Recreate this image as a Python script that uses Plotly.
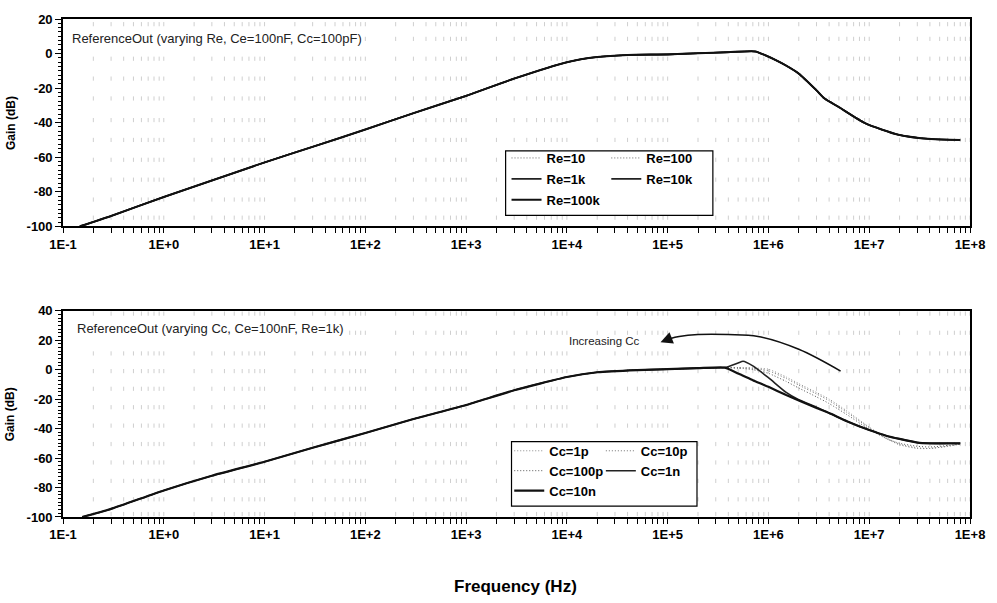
import math
import plotly.graph_objects as go

# ---------------- data ----------------
# Upper panel: gain vs frequency while Re is varied (all five responses coincide)
re_names = ["Re=10", "Re=100", "Re=1k", "Re=10k", "Re=100k"]
re_freq = [0.147, 0.3, 1, 3, 10, 30, 100, 300, 1e3, 3e3, 1e4, 2e4, 4e4, 1e5, 2e5,
           4e5, 7.4e5, 9.3e5, 1.2e6, 1.5e6, 2e6, 3e6, 3.6e6, 5e6, 9.1e6, 1.95e7,
           4.1e7, 8e7]
re_gain = [-100, -94, -83, -73.5, -63, -54, -44, -34.5, -24.5, -14.5, -5, -2,
           -0.8, -0.5, 0.2, 0.8, 1.2, -1, -4, -7, -11.6, -21.3, -26, -31, -40.3,
           -47, -49.5, -50]

# Lower panel: gain vs frequency while Cc is varied
cc_names = ["Cc=1p", "Cc=10p", "Cc=100p", "Cc=1n", "Cc=10n"]
cc_freq = [0.155, 0.3, 1, 3, 10, 30, 100, 300, 1e3, 3e3, 1e4, 2e4, 5e4, 1e5, 2e5,
           3.7e5, 5e5, 5.6e5, 7e5, 1e6, 1.5e6, 2e6, 3e6, 4e6, 6e6, 1e7, 1.5e7,
           2e7, 3e7, 4e7, 6e7, 8e7]
cc_low = [-100, -94.5, -82, -72, -62.5, -53, -43, -33.5, -24, -14, -5, -1.8,
          -0.3, 0.3, 1, 1.4]
cc_high = {
    "Cc=1p":   [1.3, 1.3, 1.2, 0.3, -5, -9.5, -15.5, -20, -28, -39, -46.5, -50.5,
                -53, -53.5, -52, -50.5],
    "Cc=10p":  [1.2, 1.2, 0.8, -0.8, -6, -10.5, -16.5, -21, -29, -39.5, -47, -51,
                -53.5, -53.5, -52, -50.5],
    "Cc=100p": [1, 0.8, 0, -2.5, -8, -12.5, -18.5, -23, -30.5, -40.5, -47, -50,
                -52, -52.5, -51.5, -50.5],
    "Cc=1n":   [4.5, 5.7, 2.5, -5.5, -15.5, -20.5, -25.5, -29.5, -35, -41, -45,
                -47, -49.5, -50, -50, -50],
    "Cc=10n":  [-2.6, -4.1, -7.2, -11.7, -17.3, -21, -26, -29.5, -35, -41, -45,
                -47, -49.5, -50, -50, -50],
}

# "Increasing Cc" guide arc
arc_freq = [5.2e6, 2e6, 7.9e5, 4e5, 2e5, 1.3e5, 1.05e5]
arc_gain = [-1, 13.8, 22.5, 23.8, 23.8, 22.5, 21]
arrow_tip = (8.5e4, 18.5)

# Axis ticks
x_decades = [10.0 ** k for k in range(-1, 9)]
x_labels = ["1E-1", "1E+0", "1E+1", "1E+2", "1E+3", "1E+4", "1E+5", "1E+6",
            "1E+7", "1E+8"]
top_yticks = [20, 0, -20, -40, -60, -80, -100]
bot_yticks = [40, 20, 0, -20, -40, -60, -80, -100]

# Rows of the dotted background grid (dB)
top_grid_rows = [17, 8.5, -3, -14.5, -26, -38.5, -50, -61.5, -73, -84.5, -95]
bot_grid_rows = [38, 25, 11, -1, -13, -25.5, -38, -50.5, -63, -75.5, -88, -98]

# ---------------- styling ----------------
FONT = "Liberation Sans, Arial, sans-serif"
DOTS = "1px,2px"
minor_x = [m * d for d in x_decades[:-1] for m in range(2, 10)]
grid_x = [m * d for d in x_decades[:-1] for m in range(2, 11)]

re_style = {
    "Re=10":   dict(color="#666666", width=1, dash=DOTS),
    "Re=100":  dict(color="#666666", width=1, dash=DOTS),
    "Re=1k":   dict(color="#222222", width=1.6, dash="solid"),
    "Re=10k":  dict(color="#222222", width=1.6, dash="solid"),
    "Re=100k": dict(color="#111111", width=2, dash="solid"),
}
re_legend = {"Re=10": "legend", "Re=1k": "legend", "Re=100k": "legend",
             "Re=100": "legend2", "Re=10k": "legend2"}
cc_style = {
    "Cc=1p":   dict(color="#8a8a8a", width=1, dash=DOTS),
    "Cc=10p":  dict(color="#707070", width=1, dash=DOTS),
    "Cc=100p": dict(color="#555555", width=1, dash=DOTS),
    "Cc=1n":   dict(color="#222222", width=1.6, dash="solid"),
    "Cc=10n":  dict(color="#111111", width=2.2, dash="solid"),
}
cc_legend = {"Cc=1p": "legend3", "Cc=100p": "legend3", "Cc=10n": "legend3",
             "Cc=10p": "legend4", "Cc=1n": "legend4"}

fig = go.Figure()


def grid_dots(rows, xa, ya):
    xs, ys = [], []
    for r in rows:
        for gx in grid_x:
            xs.append(gx)
            ys.append(r)
    fig.add_trace(go.Scatter(
        x=xs, y=ys, xaxis=xa, yaxis=ya, mode="markers", hoverinfo="skip",
        showlegend=False,
        marker=dict(symbol="line-ns", size=3, color="#cfcfcf",
                    line=dict(color="#cfcfcf", width=1)),
    ))


grid_dots(top_grid_rows, "x", "y")
grid_dots(bot_grid_rows, "x2", "y2")

for name in re_names:
    st = dict(re_style[name], shape="spline", smoothing=0.6)
    fig.add_trace(go.Scatter(
        x=re_freq, y=re_gain, name=name, mode="lines", xaxis="x", yaxis="y",
        line=st, legend=re_legend[name], legendgroup=name,
    ))

for name in cc_names:
    st = dict(cc_style[name], shape="spline", smoothing=0.5)
    fig.add_trace(go.Scatter(
        x=cc_freq, y=cc_low + cc_high[name], name=name, mode="lines",
        xaxis="x2", yaxis="y2", line=st, legend=cc_legend[name],
        legendgroup=name,
    ))

fig.add_trace(go.Scatter(
    x=arc_freq, y=arc_gain, mode="lines", xaxis="x2", yaxis="y2",
    showlegend=False, hoverinfo="skip",
    line=dict(color="#111111", width=1.6, shape="spline"),
))


def x_axis(anchor):
    return dict(
        type="log", range=[-1, 8], anchor=anchor, domain=[0, 1],
        tickmode="array", tickvals=x_decades, ticktext=x_labels,
        ticks="outside", ticklen=5, tickwidth=1.2, tickcolor="black",
        tickfont=dict(family=FONT, size=13, color="black", weight="bold"),
        showgrid=False, zeroline=False,
        showline=True, linecolor="black", linewidth=1.6, mirror=True,
        minor=dict(tickmode="array", tickvals=minor_x, ticks="outside",
                   ticklen=5, tickcolor="black", tickwidth=1, showgrid=False),
    )


def y_axis(anchor, rng, ticks, domain):
    return dict(
        range=rng, anchor=anchor, domain=domain,
        tickmode="array", tickvals=ticks, ticktext=[str(t) for t in ticks],
        ticks="outside", ticklen=6, tickwidth=1.2, tickcolor="black",
        tickfont=dict(family=FONT, size=13, color="black", weight="bold"),
        showgrid=False, zeroline=False,
        showline=True, linecolor="black", linewidth=1.6, mirror=True,
        minor=dict(dtick=2.5, ticks="outside", ticklen=3, tickcolor="black",
                   tickwidth=1, showgrid=False),
    )


def legend_box(x, y, gap):
    return dict(
        x=x, y=y, xanchor="left", yanchor="top", orientation="v",
        bgcolor="rgba(0,0,0,0)", borderwidth=0, traceorder="grouped",
        tracegroupgap=gap, itemclick=False, itemdoubleclick=False,
        font=dict(family=FONT, size=13, color="black", weight="bold"),
    )


fig.update_layout(
    width=997, height=603,
    margin=dict(l=63, r=24, t=15, b=86),
    paper_bgcolor="white", plot_bgcolor="white",
    xaxis=x_axis("y"),
    yaxis=y_axis("x", [-100, 20], top_yticks, [0.5837, 1.0]),
    xaxis2=x_axis("y2"),
    yaxis2=y_axis("x2", [-100, 40], bot_yticks, [0.0, 0.4143]),
    legend=legend_box(0.489, 0.751, 1),
    legend2=legend_box(0.599, 0.751, 1),
    legend3=legend_box(0.492, 0.163, 0),
    legend4=legend_box(0.593, 0.163, 0),
    shapes=[
        dict(type="rect", xref="paper", yref="paper", x0=0.488, x1=0.7165,
             y0=0.6056, y1=0.735, line=dict(color="black", width=1.2),
             fillcolor="white", layer="above"),
        dict(type="rect", xref="paper", yref="paper", x0=0.4945, x1=0.699,
             y0=0.0219, y1=0.1514, line=dict(color="black", width=1.2),
             fillcolor="white", layer="above"),
    ],
    showlegend=True,
)

annotations = [
    dict(text="ReferenceOut (varying Re, Ce=100nF, Cc=100pF)", xref="x domain",
         yref="y domain", x=0.0077, y=0.904, xanchor="left", yanchor="middle",
         showarrow=False, bgcolor="white",
         font=dict(family=FONT, size=13, color="#222222")),
    dict(text="ReferenceOut (varying Cc, Ce=100nF, Re=1k)", xref="x2 domain",
         yref="y2 domain", x=0.013, y=0.913, xanchor="left", yanchor="middle",
         showarrow=False, bgcolor="white",
         font=dict(family=FONT, size=13, color="#222222")),
    dict(text="Gain (dB)", xref="paper", yref="paper", x=-0.058, y=0.792,
         textangle=-90, showarrow=False, xanchor="center", yanchor="middle",
         font=dict(family=FONT, size=12, color="black", weight="bold")),
    dict(text="Gain (dB)", xref="paper", yref="paper", x=-0.058, y=0.207,
         textangle=-90, showarrow=False, xanchor="center", yanchor="middle",
         font=dict(family=FONT, size=12, color="black", weight="bold")),
    dict(text="Frequency (Hz)", xref="paper", yref="paper", x=0.499, y=-0.139,
         showarrow=False, xanchor="center", yanchor="middle",
         font=dict(family=FONT, size=17, color="black", weight="bold")),
    dict(text="Increasing Cc", xref="x2", yref="y2", x=4.75, y=19.5,
         xanchor="right", yanchor="middle", showarrow=False,
         font=dict(family=FONT, size=11.5, color="#222222")),
    dict(text="", xref="x2", yref="y2",
         x=math.log10(arrow_tip[0]), y=arrow_tip[1],
         axref="x2", ayref="y2",
         ax=math.log10(arc_freq[-1]), ay=arc_gain[-1],
         showarrow=True, arrowhead=2, arrowsize=1.6, arrowwidth=1.5,
         arrowcolor="#111111"),
]
fig.update_layout(annotations=annotations)

fig.write_html("out.html")
